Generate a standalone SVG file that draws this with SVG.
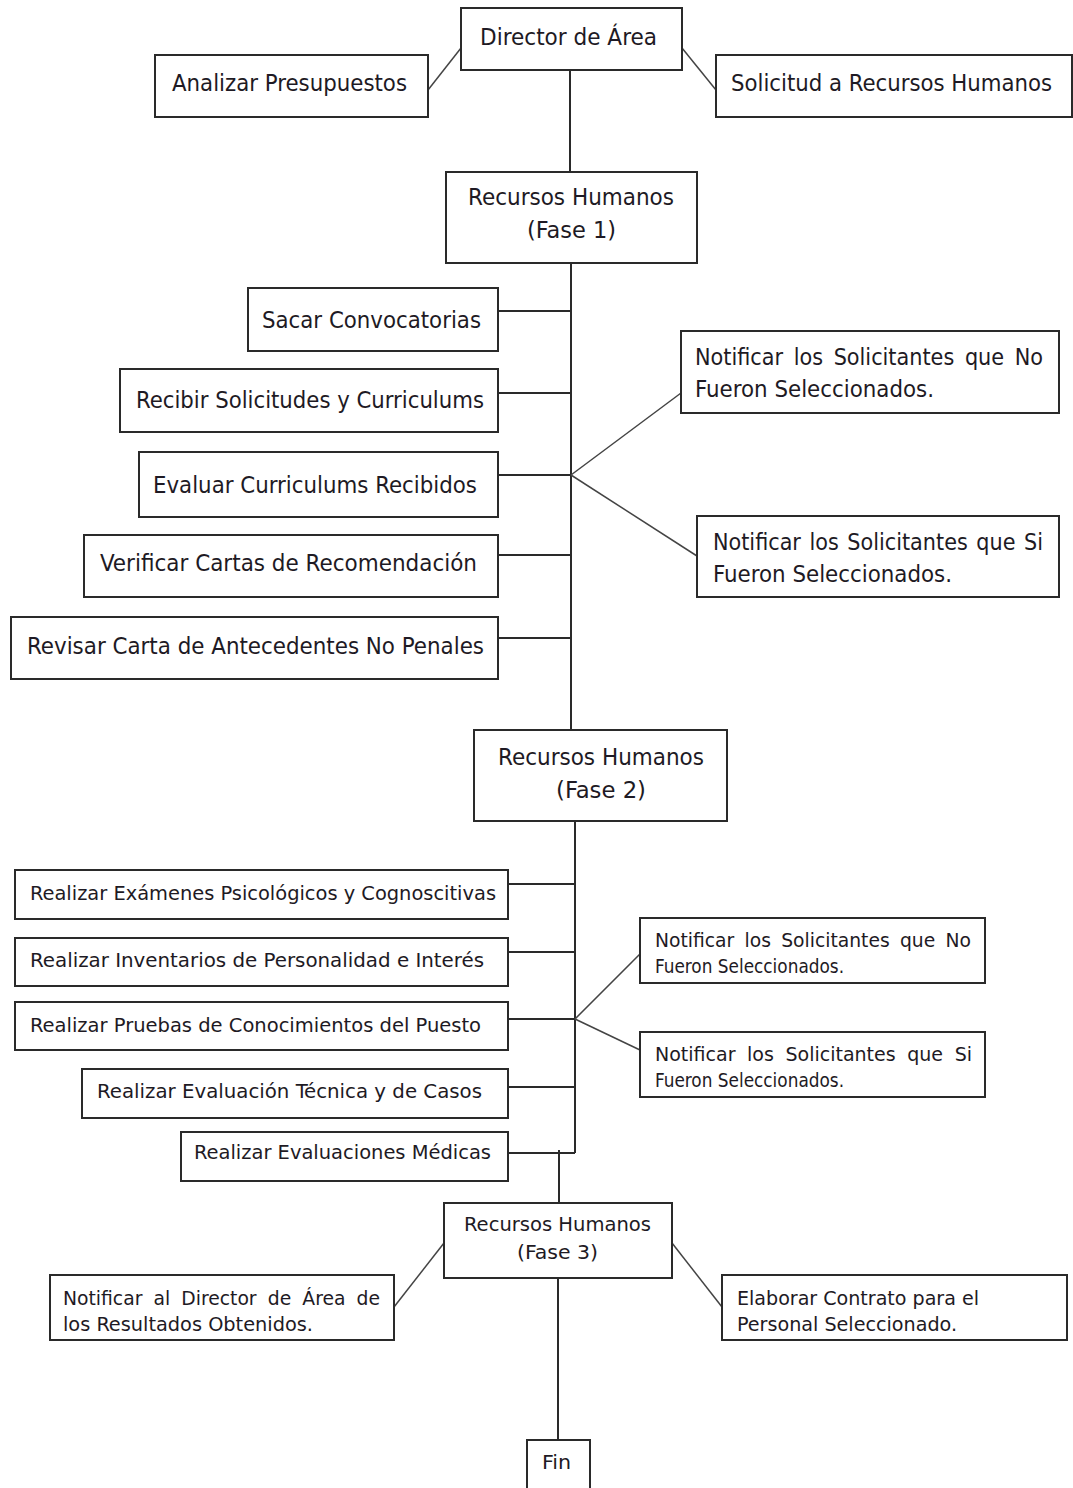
<svg xmlns="http://www.w3.org/2000/svg" width="1073" height="1488" viewBox="0 0 1073 1488">
<style>
.b{fill:#fff;stroke:#2a2a2a;stroke-width:2}
.c{stroke:#2a2a2a;stroke-width:2;fill:none}
.d{stroke:#444;stroke-width:1.5;fill:none}
text{font-family:"DejaVu Sans Condensed","DejaVu Sans",sans-serif;fill:#1e1a24}
.L{font-size:23px}
.M{font-size:20px}
.S{font-size:19px}
</style>
<rect width="1073" height="1488" fill="#fff"/>
<g id="connectors">
<line class="c" x1="570" y1="70" x2="570" y2="172"/>
<line class="d" x1="428" y1="90" x2="461" y2="48"/>
<line class="d" x1="682" y1="48" x2="716" y2="90"/>
<line class="c" x1="571" y1="263" x2="571" y2="730"/>
<line class="c" x1="498" y1="311" x2="571" y2="311"/>
<line class="c" x1="498" y1="393" x2="571" y2="393"/>
<line class="c" x1="498" y1="475" x2="571" y2="475"/>
<line class="c" x1="498" y1="555" x2="571" y2="555"/>
<line class="c" x1="498" y1="638" x2="571" y2="638"/>
<line class="d" x1="571" y1="475" x2="681" y2="393"/>
<line class="d" x1="571" y1="475" x2="697" y2="556"/>
<line class="c" x1="575" y1="821" x2="575" y2="1153"/>
<line class="c" x1="508" y1="884" x2="575" y2="884"/>
<line class="c" x1="508" y1="952" x2="575" y2="952"/>
<line class="c" x1="508" y1="1019" x2="575" y2="1019"/>
<line class="c" x1="508" y1="1087" x2="575" y2="1087"/>
<line class="c" x1="508" y1="1153" x2="575" y2="1153"/>
<line class="d" x1="575" y1="1019" x2="640" y2="954"/>
<line class="d" x1="575" y1="1019" x2="640" y2="1050"/>
<line class="c" x1="559" y1="1150" x2="559" y2="1203"/>
<line class="c" x1="558" y1="1278" x2="558" y2="1440"/>
<line class="d" x1="394" y1="1307" x2="444" y2="1243"/>
<line class="d" x1="672" y1="1243" x2="722" y2="1307"/>
</g>
<g id="director"><rect class="b" x="461" y="8" width="221" height="62"/><text class="L" x="480" y="45" textLength="177" lengthAdjust="spacingAndGlyphs">Director de Área</text></g>
<g id="analizar"><rect class="b" x="155" y="55" width="273" height="62"/><text class="L" x="172" y="91" textLength="235" lengthAdjust="spacingAndGlyphs">Analizar Presupuestos</text></g>
<g id="solicitud"><rect class="b" x="716" y="55" width="356" height="62"/><text class="L" x="731" y="91" textLength="321" lengthAdjust="spacingAndGlyphs">Solicitud a Recursos Humanos</text></g>
<g id="rh1"><rect class="b" x="446" y="172" width="251" height="91"/><text class="L" x="468" y="205" textLength="206" lengthAdjust="spacingAndGlyphs">Recursos Humanos</text><text class="L" x="527" y="238" textLength="89" lengthAdjust="spacingAndGlyphs">(Fase 1)</text></g>
<g id="sacar"><rect class="b" x="248" y="288" width="250" height="63"/><text class="L" x="262" y="328" textLength="219" lengthAdjust="spacingAndGlyphs">Sacar Convocatorias</text></g>
<g id="recibir"><rect class="b" x="120" y="369" width="378" height="63"/><text class="L" x="136" y="408" textLength="348" lengthAdjust="spacingAndGlyphs">Recibir Solicitudes y Curriculums</text></g>
<g id="evaluar"><rect class="b" x="139" y="452" width="359" height="65"/><text class="L" x="153" y="493" textLength="324" lengthAdjust="spacingAndGlyphs">Evaluar Curriculums Recibidos</text></g>
<g id="verificar"><rect class="b" x="84" y="535" width="414" height="62"/><text class="L" x="100" y="571" textLength="377" lengthAdjust="spacingAndGlyphs">Verificar Cartas de Recomendación</text></g>
<g id="revisar"><rect class="b" x="11" y="617" width="487" height="62"/><text class="L" x="27" y="654" textLength="457" lengthAdjust="spacingAndGlyphs">Revisar Carta de Antecedentes No Penales</text></g>
<g id="notifno1"><rect class="b" x="681" y="331" width="378" height="82"/><text class="L" x="695" y="365" word-spacing="4" textLength="348" lengthAdjust="spacingAndGlyphs">Notificar los Solicitantes que No</text><text class="L" x="695" y="397" textLength="239" lengthAdjust="spacingAndGlyphs">Fueron Seleccionados.</text></g>
<g id="notifsi1"><rect class="b" x="697" y="516" width="362" height="81"/><text class="L" x="713" y="550" word-spacing="2" textLength="330" lengthAdjust="spacingAndGlyphs">Notificar los Solicitantes que Si</text><text class="L" x="713" y="582" textLength="239" lengthAdjust="spacingAndGlyphs">Fueron Seleccionados.</text></g>
<g id="rh2"><rect class="b" x="474" y="730" width="253" height="91"/><text class="L" x="498" y="765" textLength="206" lengthAdjust="spacingAndGlyphs">Recursos Humanos</text><text class="L" x="556" y="798" textLength="90" lengthAdjust="spacingAndGlyphs">(Fase 2)</text></g>
<g id="examenes"><rect class="b" x="15" y="870" width="493" height="49"/><text class="M" x="30" y="900" textLength="466" lengthAdjust="spacingAndGlyphs">Realizar Exámenes Psicológicos y Cognoscitivas</text></g>
<g id="inventarios"><rect class="b" x="15" y="938" width="493" height="48"/><text class="M" x="30" y="967" textLength="454" lengthAdjust="spacingAndGlyphs">Realizar Inventarios de Personalidad e Interés</text></g>
<g id="pruebas"><rect class="b" x="15" y="1002" width="493" height="48"/><text class="M" x="30" y="1032" textLength="451" lengthAdjust="spacingAndGlyphs">Realizar Pruebas de Conocimientos del Puesto</text></g>
<g id="tecnica"><rect class="b" x="82" y="1069" width="426" height="49"/><text class="M" x="97" y="1098" textLength="385" lengthAdjust="spacingAndGlyphs">Realizar Evaluación Técnica y de Casos</text></g>
<g id="medicas"><rect class="b" x="181" y="1132" width="327" height="49"/><text class="M" x="194" y="1159" textLength="297" lengthAdjust="spacingAndGlyphs">Realizar Evaluaciones Médicas</text></g>
<g id="notifno2"><rect class="b" x="640" y="918" width="345" height="65"/><text class="S" x="655" y="947" word-spacing="4" textLength="316" lengthAdjust="spacingAndGlyphs">Notificar los Solicitantes que No</text><text class="S" x="655" y="973" textLength="189" lengthAdjust="spacingAndGlyphs">Fueron Seleccionados.</text></g>
<g id="notifsi2"><rect class="b" x="640" y="1032" width="345" height="65"/><text class="S" x="655" y="1061" word-spacing="5" textLength="317" lengthAdjust="spacingAndGlyphs">Notificar los Solicitantes que Si</text><text class="S" x="655" y="1087" textLength="189" lengthAdjust="spacingAndGlyphs">Fueron Seleccionados.</text></g>
<g id="rh3"><rect class="b" x="444" y="1203" width="228" height="75"/><text class="S" x="464" y="1231" textLength="187" lengthAdjust="spacingAndGlyphs">Recursos Humanos</text><text class="S" x="517" y="1259" textLength="81" lengthAdjust="spacingAndGlyphs">(Fase 3)</text></g>
<g id="notifdir"><rect class="b" x="50" y="1275" width="344" height="65"/><text class="M" x="63" y="1305" word-spacing="5" textLength="317" lengthAdjust="spacingAndGlyphs">Notificar al Director de Área de</text><text class="M" x="63" y="1331" textLength="250" lengthAdjust="spacingAndGlyphs">los Resultados Obtenidos.</text></g>
<g id="contrato"><rect class="b" x="722" y="1275" width="345" height="65"/><text class="M" x="737" y="1305" textLength="242" lengthAdjust="spacingAndGlyphs">Elaborar Contrato para el</text><text class="M" x="737" y="1331" textLength="220" lengthAdjust="spacingAndGlyphs">Personal Seleccionado.</text></g>
<g id="fin"><rect class="b" x="527" y="1440" width="63" height="50"/><text class="M" x="542" y="1469" textLength="29" lengthAdjust="spacingAndGlyphs">Fin</text></g>
</svg>
